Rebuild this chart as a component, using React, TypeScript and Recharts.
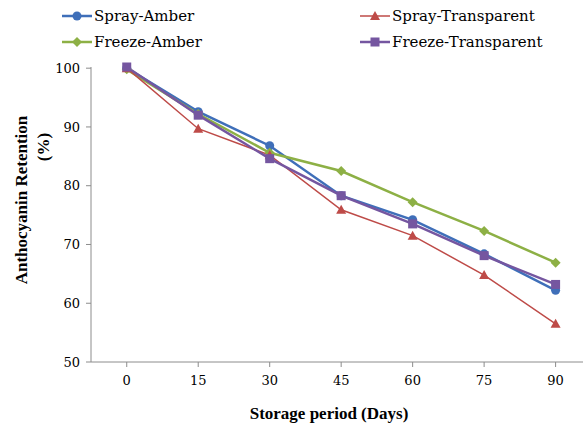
import { LineChart, Line, XAxis, YAxis, Legend } from "recharts";

const days = [0, 15, 30, 45, 60, 75, 90];
const sprayAmber = [100, 92.6, 86.8, 78.3, 74.2, 68.4, 62.2];
const sprayTransparent = [100, 89.7, 85.2, 75.9, 71.5, 64.8, 56.5];
const freezeAmber = [99.8, 92.2, 85.6, 82.5, 77.2, 72.3, 66.9];
const freezeTransparent = [100.2, 92.0, 84.6, 78.3, 73.5, 68.1, 63.2];
const yTicks = [50, 60, 70, 80, 90, 100];

const data = days.map((d, i) => ({
  day: d,
  sa: sprayAmber[i],
  st: sprayTransparent[i],
  fa: freezeAmber[i],
  ft: freezeTransparent[i],
}));

const SERIF = '"DejaVu Serif", "Liberation Serif", serif';
const TITLE = '"Liberation Serif", serif';

const BLUE = "#3F6FB9";
const RED = "#BE4B48";
const GREEN = "#8DB045";
const PURPLE = "#7556A0";

type Shape = "circle" | "triangle" | "diamond" | "square";

function marker(shape: Shape, x: number, y: number, color: string, key?: string) {
  if (shape === "circle") return <circle key={key} cx={x} cy={y} r={4.5} fill={color} />;
  if (shape === "triangle")
    return <polygon key={key} points={`${x},${y - 5} ${x + 5},${y + 4} ${x - 5},${y + 4}`} fill={color} />;
  if (shape === "diamond")
    return <polygon key={key} points={`${x},${y - 5} ${x + 5},${y} ${x},${y + 5} ${x - 5},${y}`} fill={color} />;
  return <rect key={key} x={x - 4.5} y={y - 4.5} width={9} height={9} fill={color} />;
}

const dotFor = (shape: Shape, color: string) => (p: any) =>
  marker(shape, p.cx, p.cy, color, `${shape}-${p.index}`);

const legendItems: { name: string; color: string; shape: Shape; w: number; x: number; y: number }[] = [
  { name: "Spray-Amber", color: BLUE, shape: "circle", w: 2.5, x: 62, y: 16 },
  { name: "Spray-Transparent", color: RED, shape: "triangle", w: 1.5, x: 360, y: 16 },
  { name: "Freeze-Amber", color: GREEN, shape: "diamond", w: 2.5, x: 62, y: 42 },
  { name: "Freeze-Transparent", color: PURPLE, shape: "square", w: 2.5, x: 360, y: 42 },
];

function LegendBox() {
  return (
    <svg width={583} height={60} style={{ display: "block" }}>
      {legendItems.map((it) => (
        <g key={it.name}>
          <line x1={it.x} x2={it.x + 30} y1={it.y} y2={it.y} stroke={it.color} strokeWidth={it.w} />
          {marker(it.shape, it.x + 15, it.y, it.color)}
          <text x={it.x + 32} y={it.y + 5} fontFamily={SERIF} fontSize={15} fill="#000">
            {it.name}
          </text>
        </g>
      ))}
    </svg>
  );
}

export default function App() {
  return (
    <div style={{ position: "absolute", left: 0, top: 0, width: 583, height: 426, background: "#fff" }}>
      <LineChart width={583} height={426} data={data} margin={{ top: 7, right: 0, bottom: 34, left: 31 }}>
        <Legend
          verticalAlign="top"
          wrapperStyle={{ top: 0, left: 0, width: 583, height: 60 }}
          content={() => <LegendBox />}
        />
        <XAxis
          dataKey="day"
          type="number"
          domain={[-7.5, 95.75]}
          ticks={days}
          allowDataOverflow
          height={30}
          stroke="#8C8C8C"
          tickSize={5}
          tickMargin={9}
          tick={{ fill: "#000", fontSize: 13, fontFamily: SERIF }}
          label={{
            content: () => (
              <text x={329} y={419} textAnchor="middle" fontFamily={TITLE} fontSize={17} fontWeight="bold" fill="#000">
                Storage period (Days)
              </text>
            ),
          }}
        />
        <YAxis
          domain={[50, 100]}
          ticks={yTicks}
          width={60}
          stroke="#8C8C8C"
          tickSize={5}
          tickMargin={6}
          tick={{ fill: "#000", fontSize: 13, fontFamily: SERIF }}
          label={{
            content: () => (
              <g fontFamily={TITLE} fontSize={17} fontWeight="bold" fill="#000">
                <text transform="translate(27,200) rotate(-90)" textAnchor="middle">
                  Anthocyanin Retention
                </text>
                <text transform="translate(49,147) rotate(-90)" textAnchor="middle">
                  (%)
                </text>
              </g>
            ),
          }}
        />
        <Line dataKey="sa" stroke={BLUE} strokeWidth={2.5} dot={dotFor("circle", BLUE)} isAnimationActive={false} />
        <Line dataKey="fa" stroke={GREEN} strokeWidth={2.5} dot={dotFor("diamond", GREEN)} isAnimationActive={false} />
        <Line dataKey="st" stroke={RED} strokeWidth={1.5} dot={dotFor("triangle", RED)} isAnimationActive={false} />
        <Line dataKey="ft" stroke={PURPLE} strokeWidth={2.5} dot={dotFor("square", PURPLE)} isAnimationActive={false} />
      </LineChart>
    </div>
  );
}
